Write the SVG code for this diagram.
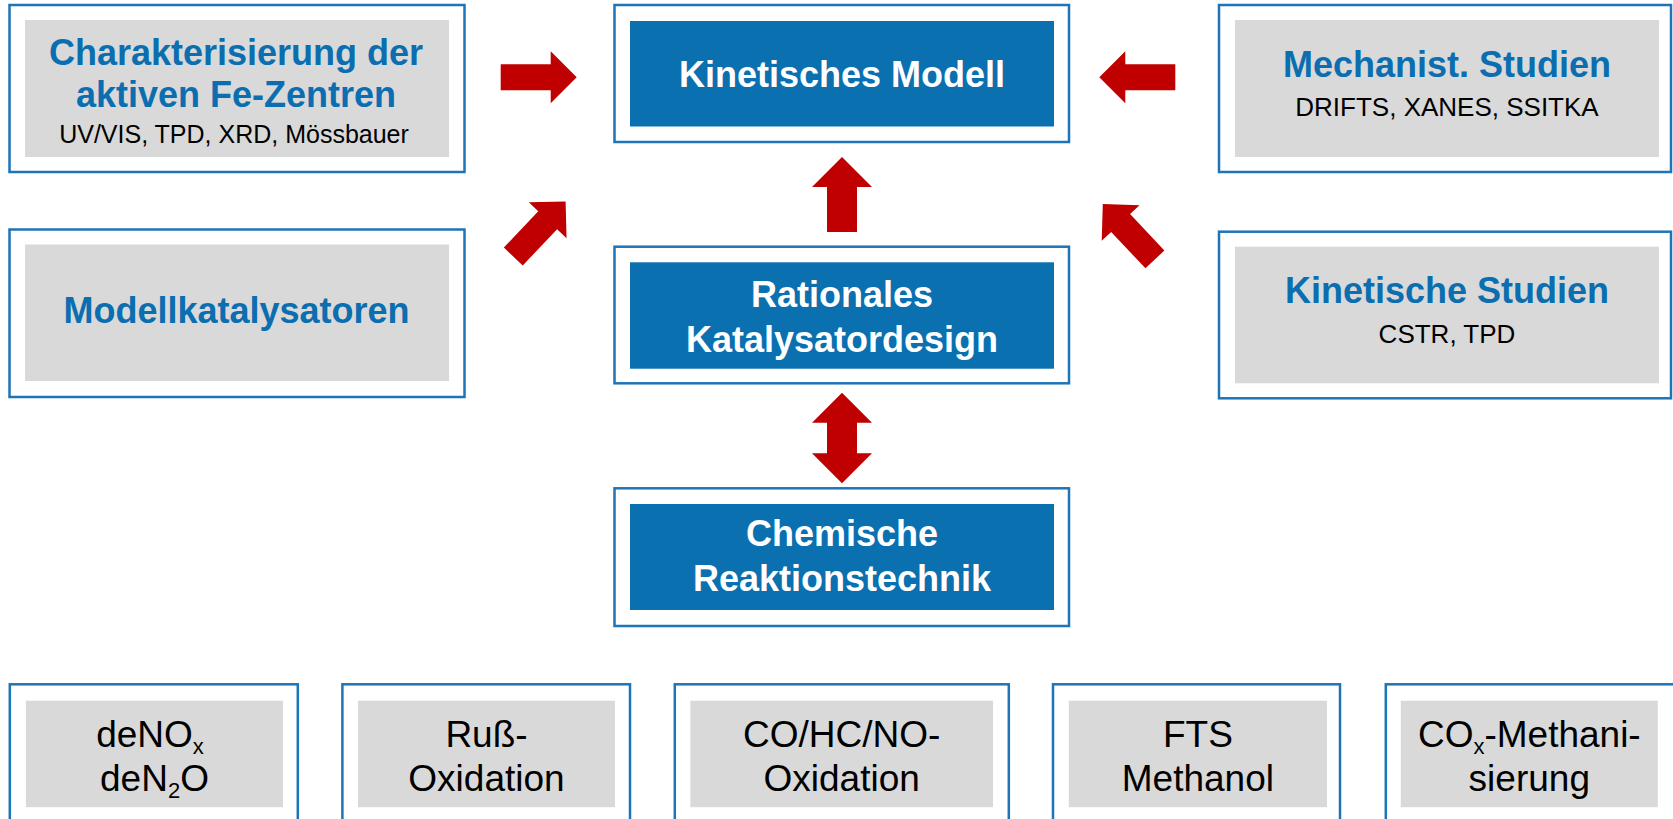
<svg xmlns="http://www.w3.org/2000/svg" width="1673" height="819" viewBox="0 0 1673 819">
<style>
.outer{fill:#ffffff;stroke:#1d74b6;stroke-width:2.5}
.gray{fill:#d9d9d9}
.blue{fill:#0a70b0}
.arrow{fill:#c00000}
.t{font-family:"Liberation Sans",Arial,sans-serif;text-anchor:middle}
.title{font-size:36px;font-weight:bold;fill:#0a6eb0}
.wtitle{font-size:36px;font-weight:bold;fill:#ffffff}
.sub{font-size:26px;fill:#000000}
.bot{font-size:37px;fill:#000000}
.s{font-size:22px}
</style>
<defs>
<path id="arr" d="M0,0 L-26,-26 L-26,-13 L-76,-13 L-76,13 L-26,13 L-26,26 Z"/>
</defs>
<rect width="1673" height="819" fill="#ffffff"/>

<g id="charakterisierung">
<rect class="outer" x="9.5" y="5" width="455" height="167"/>
<rect class="gray" x="25" y="20" width="424" height="137"/>
<text class="t title" x="236" y="65">Charakterisierung der</text>
<text class="t title" x="236" y="107">aktiven Fe-Zentren</text>
<text class="t sub" x="234" y="143" style="font-size:25px">UV/VIS, TPD, XRD, Mössbauer</text>
</g>

<g id="modellkatalysatoren">
<rect class="outer" x="9.5" y="229.5" width="455" height="167.5"/>
<rect class="gray" x="25" y="244.5" width="424" height="136.5"/>
<text class="t title" x="236.5" y="323">Modellkatalysatoren</text>
</g>

<g id="kinetisches-modell">
<rect class="outer" x="614.5" y="5" width="454.5" height="137"/>
<rect class="blue" x="630" y="21" width="424" height="105.5"/>
<text class="t wtitle" x="842" y="86.5">Kinetisches Modell</text>
</g>

<g id="rationales-katalysatordesign">
<rect class="outer" x="614.5" y="246.7" width="454.5" height="136.6"/>
<rect class="blue" x="630" y="262.3" width="424" height="106.4"/>
<text class="t wtitle" x="842" y="306.5">Rationales</text>
<text class="t wtitle" x="842" y="352">Katalysatordesign</text>
</g>

<g id="chemische-reaktionstechnik">
<rect class="outer" x="614.5" y="488.3" width="454.5" height="137.7"/>
<rect class="blue" x="630" y="504" width="424" height="106"/>
<text class="t wtitle" x="842" y="545.5">Chemische</text>
<text class="t wtitle" x="842" y="591">Reaktionstechnik</text>
</g>

<g id="mechanist-studien">
<rect class="outer" x="1219" y="5" width="452" height="167"/>
<rect class="gray" x="1235" y="20" width="424" height="137"/>
<text class="t title" x="1447" y="76.5">Mechanist. Studien</text>
<text class="t sub" x="1447" y="115.5">DRIFTS, XANES, SSITKA</text>
</g>

<g id="kinetische-studien">
<rect class="outer" x="1219" y="231.7" width="452" height="166.6"/>
<rect class="gray" x="1235" y="246.7" width="424" height="136.6"/>
<text class="t title" x="1447" y="303.3">Kinetische Studien</text>
<text class="t sub" x="1447" y="343.3">CSTR, TPD</text>
</g>

<g id="denox">
<rect class="outer" x="9.8" y="684.3" width="288" height="150"/>
<rect class="gray" x="25.9" y="700.7" width="257.1" height="106.5"/>
<text class="t bot" x="150" y="747">deNO<tspan class="s" dy="7">x</tspan></text>
<text class="t bot" x="154.5" y="791">deN<tspan class="s" dy="7">2</tspan><tspan dy="-7">O</tspan></text>
</g>

<g id="russ-oxidation">
<rect class="outer" x="342.4" y="684.3" width="287.6" height="150"/>
<rect class="gray" x="358" y="700.7" width="257" height="106.5"/>
<text class="t bot" x="486.5" y="747">Ruß-</text>
<text class="t bot" x="486.5" y="791">Oxidation</text>
</g>

<g id="co-hc-no-oxidation">
<rect class="outer" x="674.8" y="684.3" width="334" height="150"/>
<rect class="gray" x="690.4" y="700.7" width="302.6" height="106.5"/>
<text class="t bot" x="841.7" y="747">CO/HC/NO-</text>
<text class="t bot" x="841.7" y="791">Oxidation</text>
</g>

<g id="fts-methanol">
<rect class="outer" x="1053" y="684.3" width="287" height="150"/>
<rect class="gray" x="1068.8" y="700.7" width="258.2" height="106.5"/>
<text class="t bot" x="1197.9" y="747">FTS</text>
<text class="t bot" x="1197.9" y="791">Methanol</text>
</g>

<g id="cox-methanisierung">
<rect class="outer" x="1385.8" y="684.3" width="300" height="150"/>
<rect class="gray" x="1400.8" y="700.7" width="257" height="106.5"/>
<text class="t bot" x="1529.3" y="747">CO<tspan class="s" dy="7">x</tspan><tspan dy="-7">-Methani-</tspan></text>
<text class="t bot" x="1529.3" y="791">sierung</text>
</g>

<g id="connectors">
<use href="#arr" class="arrow" transform="translate(576.7,77.3)"/>
<use href="#arr" class="arrow" transform="translate(565.6,201.4) rotate(-46.5)"/>
<use href="#arr" class="arrow" transform="translate(1099.3,77.3) rotate(180)"/>
<use href="#arr" class="arrow" transform="translate(1102.8,204.1) rotate(-133.3)"/>
<path class="arrow" d="M842,157 L872,187 L857,187 L857,232 L827,232 L827,187 L812,187 Z"/>
<path class="arrow" d="M842,392.7 L872,422.7 L857,422.7 L857,453.3 L872,453.3 L842,483.3 L812,453.3 L827,453.3 L827,422.7 L812,422.7 Z"/>
</g>
</svg>
